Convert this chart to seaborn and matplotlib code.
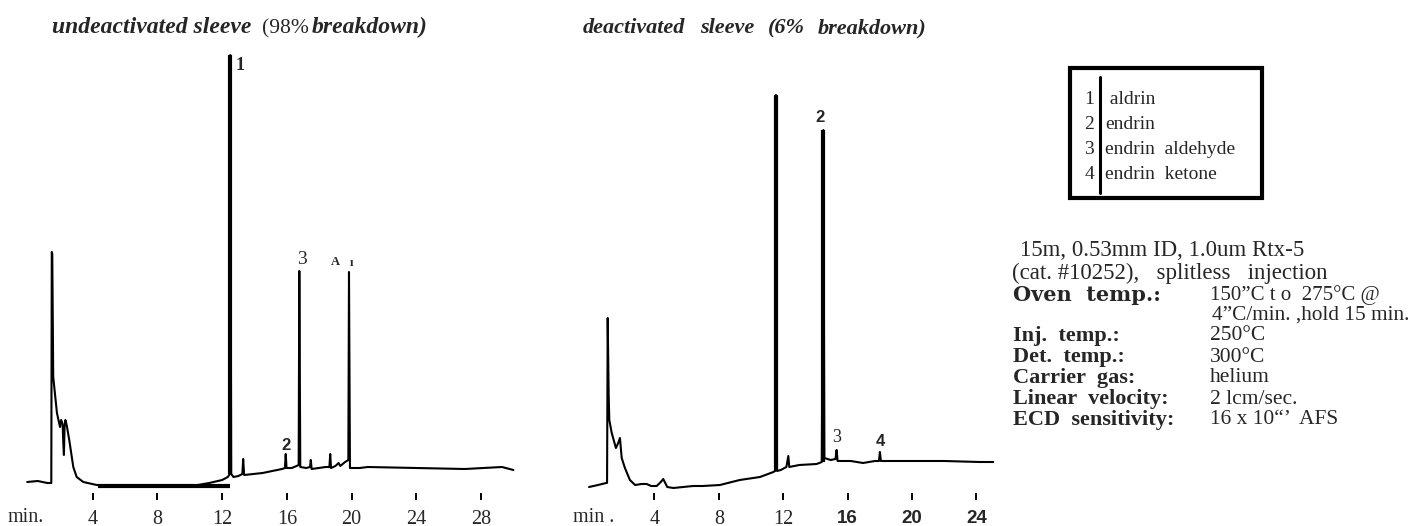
import matplotlib
matplotlib.use("Agg")
import matplotlib.pyplot as plt
import seaborn as sns
import pandas as pd
from matplotlib.patches import Rectangle
from matplotlib.lines import Line2D

# ---------------- data ----------------
# left chromatogram: undeactivated sleeve (time in min, detector response, arbitrary units)
left_time = [-0.05, 0.6, 1.2, 1.44, 1.47, 1.50, 1.56, 1.79, 1.98, 2.05, 2.14, 2.18, 2.22, 2.26,
             2.31, 2.39, 2.55, 2.80, 3.01, 3.42, 4.25, 8.0, 10.5, 11.2, 12.0, 12.35, 12.47,
             12.5, 12.56, 12.7, 13.0, 13.25, 13.3, 13.36, 14.5, 15.7, 15.88, 15.93, 15.98,
             16.3, 16.6, 16.73, 16.77, 16.83, 17.2, 17.43, 17.48, 17.53, 18.4, 18.63, 18.68,
             18.73, 19.0, 19.2, 19.3, 19.6, 19.8, 19.84, 19.9, 20.5, 21.0, 24.0, 27.0, 29.3, 30.0]
left_resp = [0, 1, -1, -1, 230, 228, 105, 69, 55, 62, 58, 40, 27, 55,
             62, 57, 42, 15, 5, 0, -3, -4, -3, -1, 2, 5, 8,
             427, 8, 5, 6, 8, 23, 7, 9, 13, 14, 28, 14,
             14, 16, 17, 211, 15, 14, 15, 22, 13, 15, 15, 28,
             14, 16, 19, 16, 20, 22, 210, 14, 14, 15, 14, 13, 15, 12]

# right chromatogram: deactivated sleeve
right_time = [-0.06, 0.5, 1.0, 1.06, 1.1, 1.16, 1.2, 1.35, 1.61, 1.75, 1.86, 1.97, 2.17, 2.48,
              2.8, 3.2, 3.52, 3.8, 4.14, 4.4, 4.55, 4.8, 5.18, 6.4, 7.0, 8.07, 9.3, 10.56,
              11.39, 11.5, 11.55, 11.62, 11.85, 12.2, 12.32, 12.38, 13.0, 14.08, 14.4, 14.5,
              14.56, 14.95, 15.25, 15.32, 15.38, 16.2, 16.96, 17.7, 17.95, 18.01, 18.07,
              19.0, 20.3, 22.0, 24.2, 25.05]
right_resp = [-2, 0, 2, 2, 167, 90, 65, 52, 37, 42, 47, 27, 17, 5,
              0, 1, 1, -1, -1, 3, 6, -2, -3, -1, -1, 0, 5, 8,
              13, 14, 390, 14, 15, 18, 29, 18, 20, 21, 23, 355,
              27, 25, 26, 35, 24, 24, 22, 24, 24, 33, 24,
              24, 24, 24, 23, 23]

# heavily inked strokes (drawn thicker in the original)
left_bold_id = ["peak1", "peak1", "bar", "bar"]
left_bold_time = [12.5, 12.5, 4.3, 12.5]
left_bold_resp = [8, 427, -4, -4]
right_bold_id = ["peak1", "peak1", "peak2", "peak2"]
right_bold_time = [11.55, 11.55, 14.5, 14.5]
right_bold_resp = [14, 390, 23, 355]

left_ticks = [4, 8, 12, 16, 20, 24, 28]
right_ticks = [4, 8, 12, 16, 20, 24]

# peak labels: (text, time, response)
left_labels = [("1", 13.1, 417), ("2", 15.93, 37), ("3", 16.92, 222), ("A", 18.97, 220), ("ı", 20.0, 219)]
right_labels = [("2", 14.29, 368), ("3", 15.32, 47), ("4", 18.01, 43)]

legend_nums = ["1", "2", "3", "4"]
legend_names = [" aldrin", "endrin", "endrin  aldehyde", "endrin  ketone"]

cond_keys = ["Inj.  temp.:", "Det.  temp.:", "Carrier  gas:", "Linear  velocity:", "ECD  sensitivity:"]
cond_vals = ["250°C", "300°C", "helium", "2 lcm/sec.", "16 x 10“’  AFS"]

# ---------------- figure ----------------
sns.set_style("white")
plt.rcParams["font.family"] = ["Liberation Serif", "DejaVu Serif"]

W, H = 1421, 526
fig = plt.figure(figsize=(W / 100, H / 100), dpi=100)

def px(x, y):
    return x / W, 1 - y / H

def make_ax(x0, x1, y0, y1):
    return fig.add_axes([x0 / W, 1 - y1 / H, (x1 - x0) / W, (y1 - y0) / H])

axL = make_ax(20, 520, 40, 500)
axR = make_ax(580, 1000, 40, 500)

sns.lineplot(x=left_time, y=left_resp, sort=False, estimator=None, color="black", lw=1.5, ax=axL)
dfLb = pd.DataFrame({"id": left_bold_id, "t": left_bold_time, "r": left_bold_resp})
sns.lineplot(data=dfLb, x="t", y="r", units="id", estimator=None, sort=False, color="black",
             lw=3.0, ax=axL, solid_capstyle="butt")

sns.lineplot(x=right_time, y=right_resp, sort=False, estimator=None, color="black", lw=1.5, ax=axR)
dfRb = pd.DataFrame({"id": right_bold_id, "t": right_bold_time, "r": right_bold_resp})
sns.lineplot(data=dfRb, x="t", y="r", units="id", estimator=None, sort=False, color="black",
             lw=3.0, ax=axR, solid_capstyle="butt")

axL.set_xlim(-0.494, 30.41)
axL.set_ylim(-18, 442)
axR.set_xlim(-0.621, 25.47)
axR.set_ylim(-15, 445)

for ax, ticks in ((axL, left_ticks), (axR, right_ticks)):
    ax.set_xticks(ticks)
    ax.set_xticklabels([str(t) for t in ticks])
    ax.set_yticks([])
    ax.set_xlabel("")
    ax.set_ylabel("")
    for s in ax.spines.values():
        s.set_visible(False)
    ax.tick_params(axis="x", direction="in", length=5, width=1.4, color="black",
                   labelsize=14.5, pad=7, bottom=True)
    ax.patch.set_alpha(0)

for lab in axR.get_xticklabels():
    if lab.get_text() in ("16", "20", "24"):
        lab.set_fontweight("bold")
        lab.set_family(["Liberation Sans", "DejaVu Sans"])
        lab.set_fontsize(13.5)

# peak labels
for txt, t, r in left_labels:
    if txt == "1":
        axL.text(t, r, txt, fontsize=13, fontweight="bold", ha="center", va="center")
    elif txt == "2":
        axL.text(t, r, txt, fontsize=12, fontweight="bold", family=["Liberation Sans"], ha="center", va="center")
    elif txt == "3":
        axL.text(t, r, txt, fontsize=14, ha="center", va="center")
    else:
        axL.text(t, r, txt, fontsize=9, fontweight="bold", ha="center", va="center")
for txt, t, r in right_labels:
    if txt == "3":
        axR.text(t, r, txt, fontsize=13, ha="center", va="center")
    else:
        axR.text(t, r, txt, fontsize=12, fontweight="bold", family=["Liberation Sans"], ha="center", va="center")

# min. labels
fig.text(*px(8, 517), "min.", fontsize=14.5, ha="left", va="center")
fig.text(*px(573, 517), "min .", fontsize=14.5, ha="left", va="center")

# titles
bi = dict(fontsize=17, fontweight="bold", fontstyle="italic", va="baseline", ha="left")
fig.text(*px(52, 33), "undeactivated sleeve", **bi)
fig.text(*px(262, 33), "(98%", fontsize=15.5, va="baseline", ha="left")
fig.text(*px(312, 33), "breakdown)", **bi)
bi2 = dict(bi, fontsize=16)
for word, x in (("deactivated", 583), ("sleeve", 700), ("(6%", 768), ("breakdown)", 818)):
    fig.text(*px(x, 33), word, **bi2)

# legend box
bx0, by0, bx1, by1 = 1070, 68, 1262, 198
fig.add_artist(Rectangle(px(bx0, by1), (bx1 - bx0) / W, (by1 - by0) / H, transform=fig.transFigure,
                         fill=False, lw=3, edgecolor="black"))
fig.add_artist(Line2D([1100 / W, 1100 / W], [1 - 77 / H, 1 - 193 / H], transform=fig.transFigure,
                      lw=2.2, color="black"))
for i, (n, name) in enumerate(zip(legend_nums, legend_names)):
    y = 100 + i * 24.7
    fig.text(*px(1094, y), n, fontsize=14, ha="right", va="center")
    fig.text(*px(1105, y), name, fontsize=14, ha="left", va="center")

# conditions panel
fig.text(*px(1020, 251), "15m, 0.53mm ID, 1.0um Rtx-5", fontsize=16.5, ha="left", va="center")
fig.text(*px(1012, 273), "(cat. #10252),   splitless   injection", fontsize=16.5, ha="left", va="center")
fig.text(*px(1013, 295), "Oven  temp.:", fontsize=15, fontweight="bold", family=["DejaVu Serif"],
         ha="left", va="center")
VX = 1210
fig.text(*px(VX, 295), "150”C t o  275°C @", fontsize=15, ha="left", va="center")
fig.text(*px(VX + 2, 315), "4”C/min. ,hold 15 min.", fontsize=15.3, ha="left", va="center")
for i, (k, v) in enumerate(zip(cond_keys, cond_vals)):
    y = 336 + i * 21
    fig.text(*px(1013, y), k, fontsize=16, fontweight="bold", ha="left", va="center")
    fig.text(*px(VX, y), v, fontsize=15.5, ha="left", va="center")

fig.savefig("out.png", dpi=100)
